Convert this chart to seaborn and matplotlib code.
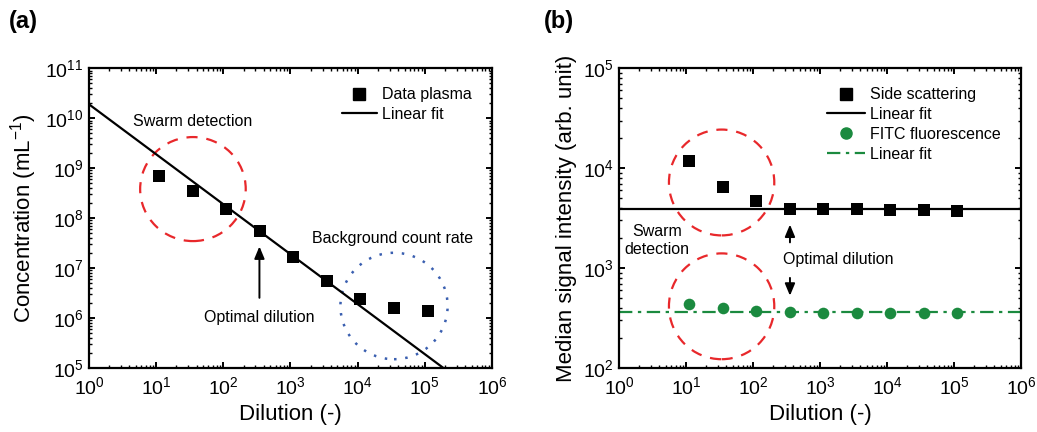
import numpy as np
import pandas as pd
import matplotlib
matplotlib.use("Agg")
import matplotlib.pyplot as plt
import seaborn as sns
from matplotlib.patches import Ellipse
from matplotlib.lines import Line2D
from matplotlib.ticker import LogLocator, LogFormatterSciNotation, NullFormatter

# ---------------- data ----------------
dilution = [11, 35, 110, 350, 1100, 3500, 11000, 35000, 110000]
conc_plasma = [6.9e8, 3.5e8, 1.55e8, 5.5e7, 1.67e7, 5.5e6, 2.4e6, 1.6e6, 1.4e6]
fit_a_coef = 1.9e10      # C = coef * D^slope
fit_a_slope = -1.0
fit_a_xrange = [1.0, 1.9e5]

side_scatter = [11800, 6500, 4680, 3930, 3870, 3950, 3840, 3840, 3750]
fitc = [438, 399, 370, 364, 359, 359, 359, 359, 359]
fit_side = 3870
fit_fitc = 360

sns.set_theme(style="ticks")
plt.rcParams["font.family"] = ["Liberation Sans", "DejaVu Sans"]
plt.rcParams["mathtext.default"] = "regular"
plt.rcParams["axes.linewidth"] = 1.6
for k in ["text.color", "axes.labelcolor", "xtick.color", "ytick.color",
          "xtick.labelcolor", "ytick.labelcolor"]:
    plt.rcParams[k] = "black"

green = "#1b8a3f"
red = "#e8282b"
blue = "#3a5fb0"

fig = plt.figure(figsize=(10.37, 4.32), dpi=100)
axa = fig.add_axes([0.0858, 0.148, 0.3886, 0.694])
axb = fig.add_axes([0.597, 0.148, 0.3877, 0.694])


def style_axis(ax, ylim):
    ax.set_xscale("log")
    ax.set_yscale("log")
    ax.set_xlim(1, 1e6)
    ax.set_ylim(*ylim)
    for axis in (ax.xaxis, ax.yaxis):
        axis.set_major_locator(LogLocator(base=10, numticks=20))
        axis.set_minor_locator(LogLocator(base=10, subs=np.arange(2, 10), numticks=20))
        axis.set_major_formatter(LogFormatterSciNotation())
        axis.set_minor_formatter(NullFormatter())
    ax.tick_params(which="both", direction="in", top=True, right=True,
                   labelsize=14, color="black", labelcolor="black")
    ax.tick_params(which="major", length=4.5, width=1.4, pad=4)
    ax.tick_params(axis="x", which="major", pad=6)
    ax.tick_params(which="minor", length=2.2, width=1.0)
    for s in ax.spines.values():
        s.set_color("black")
        s.set_linewidth(1.6)
    ax.set_xlabel("Dilution (-)", fontsize=16, labelpad=4, color="black")


# ---------------- panel (a) ----------------
df_a = pd.DataFrame({"dilution": dilution, "conc": conc_plasma})
fit_x = np.array(fit_a_xrange)
df_fit_a = pd.DataFrame({"x": fit_x, "y": fit_a_coef * fit_x ** fit_a_slope})
sns.lineplot(data=df_fit_a, x="x", y="y", ax=axa, color="black", lw=1.6, legend=False)
sns.scatterplot(data=df_a, x="dilution", y="conc", ax=axa, marker="s", s=70,
                color="black", edgecolor="black", linewidth=0, zorder=3, legend=False)
style_axis(axa, (1e5, 1e11))
axa.set_ylabel("Concentration (mL$^{-1}$)", fontsize=16, labelpad=4, color="black")

axa.add_patch(Ellipse((0.258, 0.597), 0.262, 0.347, transform=axa.transAxes,
                      fill=False, ec=red, lw=1.6, ls=(0, (5, 4))))
axa.add_patch(Ellipse((0.757, 0.207), 0.266, 0.355, transform=axa.transAxes,
                      fill=False, ec=blue, lw=1.8, ls=(0, (1, 3.5))))
axa.text(0.109, 0.822, "Swarm detection", transform=axa.transAxes, fontsize=11.5,
         ha="left", va="center")
axa.text(0.553, 0.432, "Background count rate", transform=axa.transAxes, fontsize=11.5,
         ha="left", va="center")
axa.text(0.423, 0.170, "Optimal dilution", transform=axa.transAxes, fontsize=11.5,
         ha="center", va="center")
axa.annotate("", xy=(0.423, 0.415), xytext=(0.423, 0.225), xycoords="axes fraction",
             arrowprops=dict(arrowstyle="-|>,head_length=0.6,head_width=0.25",
                             color="black", lw=1.4))
h_a = [Line2D([], [], marker="s", ls="none", color="black", markersize=8),
       Line2D([], [], color="black", lw=1.6)]
axa.legend(h_a, ["Data plasma", "Linear fit"], loc="upper right", frameon=False,
           fontsize=11.5, handlelength=2.2, handletextpad=0.3, labelspacing=0.3,
           bbox_to_anchor=(0.985, 0.985))

# ---------------- panel (b) ----------------
df_b = pd.DataFrame({"dilution": dilution, "side": side_scatter, "fitc": fitc})
axb.axhline(fit_side, color="black", lw=1.6)
axb.axhline(fit_fitc, color=green, lw=1.6, ls=(0, (6, 2.5, 1.5, 2.5)))
sns.scatterplot(data=df_b, x="dilution", y="side", ax=axb, marker="s", s=70,
                color="black", linewidth=0, zorder=3, legend=False)
sns.scatterplot(data=df_b, x="dilution", y="fitc", ax=axb, marker="o", s=70,
                color=green, linewidth=0, zorder=3, legend=False)
style_axis(axb, (1e2, 1e5))
axb.set_ylabel("Median signal intensity (arb. unit)", fontsize=16, labelpad=4,
               color="black")

axb.add_patch(Ellipse((0.255, 0.619), 0.262, 0.353, transform=axb.transAxes,
                      fill=False, ec=red, lw=1.6, ls=(0, (5, 4))))
axb.add_patch(Ellipse((0.255, 0.206), 0.262, 0.353, transform=axb.transAxes,
                      fill=False, ec=red, lw=1.6, ls=(0, (5, 4))))
axb.text(0.095, 0.425, "Swarm\ndetection", transform=axb.transAxes, fontsize=11.5,
         ha="center", va="center", linespacing=1.25)
axb.text(0.408, 0.362, "Optimal dilution", transform=axb.transAxes, fontsize=11.5,
         ha="left", va="center")
axb.annotate("", xy=(0.425, 0.488), xytext=(0.425, 0.41), xycoords="axes fraction",
             arrowprops=dict(arrowstyle="-|>,head_length=0.6,head_width=0.25",
                             color="black", lw=1.4))
axb.annotate("", xy=(0.425, 0.232), xytext=(0.425, 0.31), xycoords="axes fraction",
             arrowprops=dict(arrowstyle="-|>,head_length=0.6,head_width=0.25",
                             color="black", lw=1.4))
h_b = [Line2D([], [], marker="s", ls="none", color="black", markersize=8),
       Line2D([], [], color="black", lw=1.6),
       Line2D([], [], marker="o", ls="none", color=green, markersize=8),
       Line2D([], [], color=green, lw=1.6, ls=(0, (6, 2.5, 1.5, 2.5)))]
axb.legend(h_b, ["Side scattering", "Linear fit", "FITC fluorescence", "Linear fit"],
           loc="upper right", frameon=False, fontsize=11.5, handlelength=2.4,
           handletextpad=0.3, labelspacing=0.3, bbox_to_anchor=(0.985, 0.985))

fig.text(0.009, 0.950, "(a)", fontsize=17, fontweight="bold", ha="left", va="center")
fig.text(0.524, 0.950, "(b)", fontsize=17, fontweight="bold", ha="left", va="center")

fig.savefig("out.png", dpi=100)
